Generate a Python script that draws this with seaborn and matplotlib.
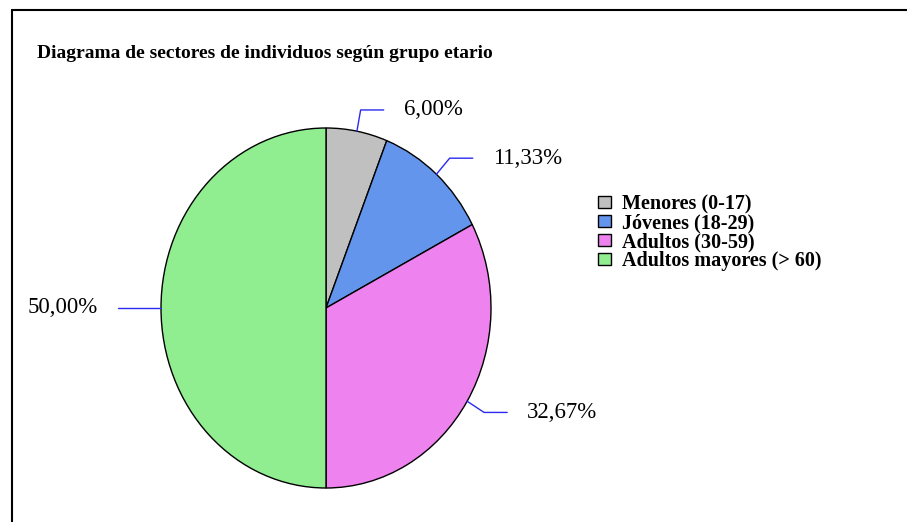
import numpy as np
import matplotlib
matplotlib.use("Agg")
import matplotlib.pyplot as plt
from matplotlib.lines import Line2D
import seaborn as sns

grupos = ["Menores (0-17)", "Jóvenes (18-29)", "Adultos (30-59)", "Adultos mayores (> 60)"]
individuos = [9, 17, 49, 75]
colores = ["#C0C0C0", "#6495ED", "#EE82EE", "#90EE90"]

sns.set_theme(style="white")
plt.rcParams['font.family'] = ['Liberation Serif', 'DejaVu Serif']
plt.rcParams['text.color'] = 'black'

W, H = 907, 522
fig = plt.figure(figsize=(W / 100, H / 100), dpi=100)
fig.patch.set_facecolor("white")

# ejes colocados en pixeles para que la torta quede eliptica
ax = fig.add_axes([161 / W, 1 - 488 / H, 330 / W, 360 / H])
wedges, _ = ax.pie(individuos, colors=colores, startangle=90, counterclock=False,
                   wedgeprops=dict(edgecolor="black", linewidth=1))
ax.set_aspect("auto")
ax.set_xlim(-1, 1)
ax.set_ylim(-1, 1)
ax.axis("off")

total = sum(individuos)
for w, n in zip(wedges, individuos):
    th = np.deg2rad((w.theta1 + w.theta2) / 2)
    cx, cy = np.cos(th), np.sin(th)
    ex, ey = 1.12 * cx, 1.12 * cy
    s = 1 if cx >= 0 else -1
    hx = ex + s * 0.14
    ax.plot([cx, ex, hx], [cy, ey, ey], color="#2a2af0", lw=1, clip_on=False)
    txt = f"{100 * n / total:.2f}%".replace(".", ",")
    ax.text(hx + s * 0.12, ey, txt, fontsize=16.5, va="center",
            ha="left" if s > 0 else "right", clip_on=False)

fig.text(37 / W, 1 - 53 / H, "Diagrama de sectores de individuos según grupo etario",
         fontsize=14, fontweight="bold", va="center", ha="left")

leg = fig.legend(wedges, grupos, loc="upper left", bbox_to_anchor=(588 / W, 1 - 184 / H),
                 frameon=False, borderpad=0, labelspacing=-0.05,
                 handlelength=0.65, handleheight=0.55, handletextpad=0.55,
                 prop=dict(weight="bold", size=14.5))

# marco superior e izquierdo
fig.add_artist(Line2D([11.5 / W, 1], [1 - 9.5 / H, 1 - 9.5 / H], color="black", lw=1.5))
fig.add_artist(Line2D([11.5 / W, 11.5 / W], [0, 1 - 9.5 / H], color="black", lw=1.5))

fig.savefig("out.png", dpi=100)
